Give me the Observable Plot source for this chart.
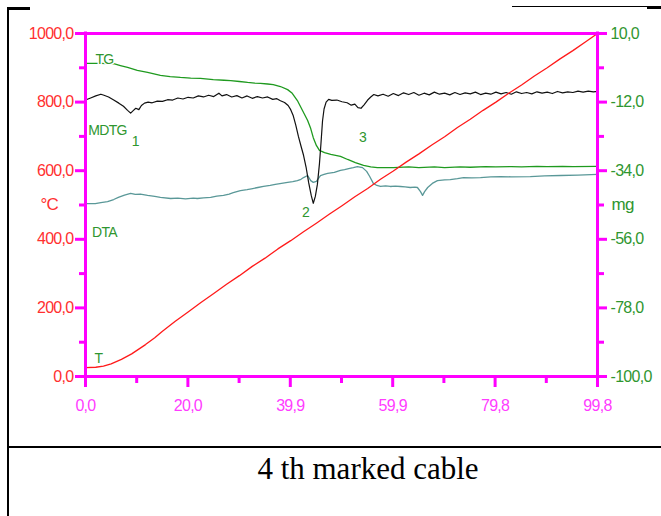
<!DOCTYPE html>
<html>
<head>
<meta charset="utf-8">
<script src="https://cdn.jsdelivr.net/npm/d3@7"></script>
<script src="https://cdn.jsdelivr.net/npm/@observablehq/plot@0.6"></script>
<style>
  html, body { margin: 0; padding: 0; background: #fff; }
  body { width: 661px; height: 516px; position: relative; overflow: hidden; }
  #chart { position: absolute; left: 0; top: 0; }
  .bline { position: absolute; background: #000; }
  #caption { position: absolute; left: 368px; top: 447px; transform: translateX(-50%);
    font-family: "Liberation Serif", "Times New Roman", serif; font-size: 31px; line-height: 44px; white-space: nowrap; color: #000; }
</style>
</head>
<body>
<div id="chart"></div>
<div class="bline" style="left:7px;top:7px;width:2px;height:509px"></div>
<div class="bline" style="left:7px;top:7px;width:23px;height:3px"></div>
<div class="bline" style="left:512px;top:6px;width:135px;height:1px"></div>
<div class="bline" style="left:647px;top:6px;width:14px;height:3px"></div>
<div class="bline" style="left:7px;top:446px;width:654px;height:2px"></div>
<div id="caption">4 th marked cable</div>
<script>
// ---- data (time in min, left scale °C, TG in mg) ----
const xTickValues = [0, 19.96, 39.92, 59.88, 79.84, 99.8];
const xTickLabels = ["0,0", "20,0", "39,9", "59,9", "79,8", "99,8"];
const xMinorTicks = [9.98, 29.94, 49.9, 69.86, 89.82];

const leftTickValues = [0, 200, 400, 600, 800, 1000];
const leftTickLabels = ["0,0", "200,0", "400,0", "600,0", "800,0", "1000,0"];
const leftMinorTicks = [100, 300, 500, 700, 900];

const rightTickMg = [-100, -78, -56, -34, -12, 10];
const rightTickLabels = ["-100,0", "-78,0", "-56,0", "-34,0", "-12,0", "10,0"];
const rightMinorMg = [-89, -67, -45, -23, -1];

// TG (mg)
const tgPoints = [[0,0.4],[3,0.4],[5.5,0.3],[6.8,-0.3],[8.2,-0.9],[10.1,-1.8],[12.1,-2.5],[14.6,-3.4],[16.5,-3.8],[18.5,-4.1],[20.5,-4.3],[22.4,-4.4],[24.9,-4.8],[27,-5.0],[28.3,-5.1],[30,-5.4],[31.6,-5.7],[33,-5.9],[34.1,-6.0],[35.5,-6.2],[36.6,-6.4],[38,-7.0],[39.4,-8.0],[40.3,-9.2],[41.3,-11.5],[42.3,-14.7],[43.3,-17.9],[43.9,-20.5],[44.4,-23.4],[45,-25.9],[45.6,-27.5],[46.6,-28.2],[47.8,-28.8],[49.7,-29.4],[51.1,-30.4],[52.6,-31.4],[54.2,-32.3],[55.6,-32.8],[56.9,-33.0],[60,-33.0],[63,-32.8],[65,-33.0],[68,-32.8],[70,-33.0],[73,-32.8],[75,-32.9],[78,-32.7],[80,-32.8],[83,-32.7],[85,-32.8],[88,-32.6],[90,-32.7],[93,-32.6],[95,-32.7],[99.8,-32.6]];

// MDTG (drawn on left scale units)
const mdtgPoints = [[0,806],[1,812],[2,818],[3,823],[3.6,820],[4.5,815],[5.5,806],[6.5,797],[7.4,788],[8.2,776],[8.8,768],[9.3,775],[9.8,782],[10.4,778],[10.9,790],[11.5,797],[12.2,800],[13,798],[14,803],[15,802],[16,807],[17,806],[18,812],[19,809],[20,814],[21,812],[22,818],[23,815],[24,820],[25,816],[26,826],[26.6,818],[27.5,822],[28.5,815],[29.5,819],[30.5,812],[31.5,818],[32.5,811],[33.5,816],[34.5,812],[35.5,815],[36.5,808],[37.3,810],[38,804],[38.8,799],[39.5,790],[40,778],[40.5,760],[41,732],[41.5,700],[42,672],[42.5,645],[43,610],[43.5,565],[44,528],[44.4,505],[44.8,525],[45.2,560],[45.6,620],[45.9,680],[46.2,745],[46.5,780],[46.9,800],[47.4,808],[48,805],[49,806],[50,801],[51,798],[51.8,791],[52.5,794],[53.1,784],[53.7,782],[54.3,792],[55,806],[55.6,815],[56.2,822],[57,818],[58,823],[59,817],[60,825],[61,819],[62,827],[63,822],[64,828],[65,820],[66,826],[67,821],[68,829],[69,823],[70,826],[71,821],[72,828],[73,822],[74,827],[75,824],[76,829],[77,822],[78,826],[79,823],[80,829],[81,824],[82,828],[83,823],[84,830],[85,825],[86,828],[87,824],[88,830],[89,826],[90,829],[91,825],[92,831],[93,827],[94,830],[95,828],[96,832],[97,829],[98,832],[99,830],[99.8,831]];

// DTA (drawn on left scale units)
const dtaPoints = [[0,504],[1.9,504],[3,507],[4.3,510],[5.5,516],[6.4,522],[7.6,529],[8.8,534],[9.7,531],[10.7,532],[12.1,528],[13.5,525],[14.6,522],[16.6,519],[18,520],[19.5,518],[21,520],[21.8,519],[23,521],[24.4,522],[25.6,526],[26.9,528],[28,532],[28.8,536],[30.2,542],[31.5,545],[32.6,548],[33.6,551],[34.7,554],[36,557],[37,560],[38.2,563],[39.4,566],[40.4,568],[41.3,571],[42,575],[42.5,580],[43.3,586],[43.9,571],[44.4,566],[45,569],[45.8,586],[46.5,589],[47.2,592],[48.5,595],[49.7,601],[50.5,603],[51.3,606],[52.2,609],[53,612],[54,609],[54.8,598],[55.4,583],[56.1,563],[56.8,557],[57.5,554],[58.5,556],[59.4,554],[60.4,555],[61.4,554],[62.3,553],[63.3,551],[64.2,552],[64.7,551],[65.3,539],[65.7,528],[66.1,539],[66.7,551],[67.6,563],[68.6,571],[70,573],[71.1,574],[72.5,577],[73.7,580],[75.3,579],[77,580],[79,582],[80.9,583],[83,582],[86.7,583],[89.5,585],[92.6,586],[96,587],[99.8,589]];

// T (°C)
const tPoints = [[0,26],[2,27],[3.5,30],[5,37],[7,50],[9,66],[11.7,93],[13.5,113],[15,132],[17.5,161],[20,188],[22.5,216],[25,242],[27.5,269],[30,294],[32.5,321],[35,345],[37.5,372],[40,396],[42.5,422],[45,447],[47.5,473],[50,498],[52.5,524],[55,548],[57.5,575],[60,599],[62.5,625],[65,649],[67.5,675],[70,699],[72.5,726],[75,750],[77.5,776],[80,800],[82.5,826],[85,850],[87.5,876],[90,900],[92.5,926],[95,950],[97.5,976],[99.8,1000]];

// Curve labels (placed in data units)
const curveLabelText = ["TG", "MDTG", "1", "DTA", "2", "3", "T"];
const curveLabelT = [3.7, 4.3, 9.7, 3.7, 42.9, 54.0, 2.5];
const curveLabelV = [924, 717, 685, 420, 478, 697, 52];

// ---- build ----
const mgToLeft = mg => (mg + 100) / 110 * 1000;
const asRows = pts => pts.map(([t, v]) => ({t, v}));
const tgRows = tgPoints.map(([t, mg]) => ({t, v: mgToLeft(mg)}));
const labelRows = curveLabelText.map((s, i) => ({s, t: curveLabelT[i], v: curveLabelV[i]}));

const MAG = "#ff00ff";
const RED = "#ff3030";
const GRN = "#2f962f";
const NARROW = "'Liberation Sans Narrow', 'Arial Narrow', 'Liberation Sans', Arial, sans-serif";

const chart = Plot.plot({
  width: 661,
  height: 447,
  marginLeft: 85,
  marginRight: 64,
  marginTop: 33,
  marginBottom: 71,
  style: {background: "#fff", overflow: "visible"},
  x: {domain: [0, 99.8]},
  y: {domain: [0, 1000]},
  marks: [
    // minor ticks
    Plot.axisY(leftMinorTicks, {anchor: "left", tickSize: 6, tickFormat: () => "", stroke: MAG, strokeWidth: 3, label: null}),
    Plot.axisY(rightMinorMg.map(mgToLeft), {anchor: "right", tickSize: 6, tickFormat: () => "", stroke: MAG, strokeWidth: 3, label: null}),
    Plot.axisX(xMinorTicks, {anchor: "bottom", tickSize: 7, tickFormat: () => "", stroke: MAG, strokeWidth: 3, label: null}),
    // major ticks + labels
    Plot.axisY(leftTickValues, {anchor: "left", tickSize: 10, tickPadding: 2,
      tickFormat: d => leftTickLabels[leftTickValues.indexOf(d)],
      stroke: MAG, strokeWidth: 3, fill: RED, fontSize: 16, fontFamily: NARROW, label: null}),
    Plot.axisY(rightTickMg.map(mgToLeft), {anchor: "right", tickSize: 9, tickPadding: 4,
      tickFormat: (d) => rightTickLabels[rightTickMg.map(mgToLeft).findIndex(v => Math.abs(v - d) < 1e-6)],
      stroke: MAG, strokeWidth: 3, fill: GRN, fontSize: 16, fontFamily: NARROW, label: null}),
    Plot.axisX(xTickValues, {anchor: "bottom", tickSize: 11, tickPadding: 12,
      tickFormat: d => xTickLabels[xTickValues.indexOf(d)],
      stroke: MAG, strokeWidth: 3, fill: "#ff3cff", fontSize: 16, fontFamily: NARROW, label: null}),
    // axis units
    Plot.text(["°C"], {frameAnchor: "left", dx: -45, textAnchor: "start", fill: RED, fontSize: 17, fontFamily: NARROW}),
    Plot.text(["mg"], {frameAnchor: "right", dx: 14, textAnchor: "start", fill: GRN, fontSize: 17, fontFamily: NARROW}),
    // curves
    Plot.line(asRows(dtaPoints), {x: "t", y: "v", stroke: "#5a9898", strokeWidth: 1.3}),
    Plot.line(tgRows, {x: "t", y: "v", stroke: "#1f9a1f", strokeWidth: 1.3}),
    Plot.line(asRows(mdtgPoints), {x: "t", y: "v", stroke: "#111", strokeWidth: 1.2}),
    Plot.line(asRows(tPoints), {x: "t", y: "v", stroke: "#ff1a1a", strokeWidth: 1.3}),
    // frame
    Plot.ruleY([0, 1000], {stroke: MAG, strokeWidth: 3, strokeLinecap: "square"}),
    Plot.ruleX([0, 99.8], {stroke: MAG, strokeWidth: 3, strokeLinecap: "square"}),
    // curve labels
    Plot.text(labelRows, {x: "t", y: "v", text: "s", fill: GRN, stroke: "#fff", strokeWidth: 3,
      fontSize: 14, fontFamily: NARROW})
  ]
});
d3.select(chart).selectAll("text").style("letter-spacing", "-0.7px");
document.getElementById("chart").appendChild(chart);
</script>
</body>
</html>
